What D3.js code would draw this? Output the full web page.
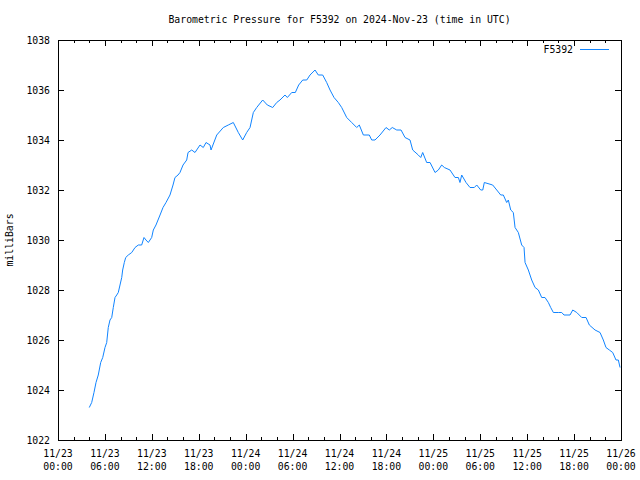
<!DOCTYPE html>
<html>
<head>
<meta charset="utf-8">
<script src="https://cdn.jsdelivr.net/npm/d3@7"></script>
<style>
  body { margin: 0; background: #fff; }
  text { font-family: "DejaVu Sans Mono", monospace; font-size: 9.8px; fill: #000; }
</style>
</head>
<body>
<div id="chart"></div>
<script>
// hours after 2024-11-23 00:00 UTC
const hours = [4.00, 4.31, 4.60, 4.86, 5.15, 5.46, 5.72, 6.01, 6.23, 6.43, 6.65, 6.87, 7.07, 7.29, 7.51, 7.71,
  7.93, 8.15, 8.27, 8.48, 8.66, 8.99, 9.43, 9.85, 10.27, 10.70, 11.00, 11.25, 11.55, 11.98, 12.19, 12.53,
  13.05, 13.43, 13.81, 14.32, 14.71, 14.96, 15.35, 15.60, 15.99, 16.46, 16.63, 17.10, 17.52, 18.16, 18.58,
  18.93, 19.44, 19.57, 20.30, 21.14, 21.78, 22.42, 23.06, 23.62, 24.13, 24.56, 24.98, 25.41, 26.18, 26.77,
  27.46, 27.97, 28.39, 29.03, 29.33, 29.89, 30.35, 30.78, 31.30, 31.81, 32.23, 32.87, 33.29, 33.85, 34.36,
  34.79, 35.30, 35.85, 36.28, 36.92, 37.56, 38.20, 38.53, 39.05, 39.81, 40.12, 40.54, 41.18, 41.95, 42.37,
  42.75, 43.32, 43.87, 44.38, 45.02, 45.36, 46.08, 46.39, 46.64, 47.15, 47.58, 48.22, 48.64, 49.07, 49.41,
  50.13, 50.77, 51.20, 51.41, 51.63, 52.18, 52.69, 53.24, 53.55, 54.06, 54.32, 54.52, 55.59, 56.11, 56.62,
  56.95, 57.38, 57.59, 57.90, 58.23, 58.45, 58.87, 59.30, 59.60, 59.73, 60.15, 60.58, 61.01, 61.43, 61.86,
  62.28, 62.71, 63.01, 63.35, 63.69, 63.98, 64.42, 64.71, 65.48, 65.83, 66.34, 66.98, 67.53, 67.95, 68.68,
  69.32, 69.74, 70.08, 70.51, 70.94, 71.36, 71.66, 71.88];
const pressure = [1023.3, 1023.5, 1023.9, 1024.3, 1024.6, 1025.1, 1025.3, 1025.7, 1025.9, 1026.5, 1026.8, 1026.9, 1027.3, 1027.7, 1027.8, 1027.9,
  1028.2, 1028.5, 1028.8, 1029.1, 1029.3, 1029.4, 1029.5, 1029.7, 1029.8, 1029.8, 1030.1, 1030.0, 1029.9, 1030.1, 1030.4, 1030.6,
  1031.0, 1031.3, 1031.5, 1031.8, 1032.2, 1032.5, 1032.6, 1032.7, 1033.0, 1033.2, 1033.5, 1033.6, 1033.5, 1033.8, 1033.7,
  1033.9, 1033.8, 1033.6, 1034.2, 1034.5, 1034.6, 1034.7, 1034.3, 1034.0, 1034.3, 1034.5, 1035.1, 1035.3, 1035.6, 1035.4,
  1035.3, 1035.5, 1035.6, 1035.8, 1035.7, 1035.9, 1035.9, 1036.2, 1036.4, 1036.4, 1036.6, 1036.8, 1036.6, 1036.6, 1036.3,
  1036.0, 1035.7, 1035.5, 1035.3, 1034.9, 1034.7, 1034.5, 1034.6, 1034.2, 1034.2, 1034.0, 1034.0, 1034.2, 1034.5, 1034.4,
  1034.5, 1034.4, 1034.4, 1034.1, 1034.0, 1033.6, 1033.4, 1033.3, 1033.5, 1033.1, 1033.1, 1032.7, 1032.8, 1033.0, 1032.9,
  1032.8, 1032.5, 1032.5, 1032.3, 1032.6, 1032.3, 1032.1, 1032.1, 1032.2, 1032.0, 1032.0, 1032.3, 1032.2, 1032.0, 1031.8,
  1031.8, 1031.5, 1031.6, 1031.2, 1031.1, 1030.5, 1030.3, 1029.8, 1029.7, 1029.1, 1028.8, 1028.4, 1028.1, 1028.0, 1027.7,
  1027.7, 1027.5, 1027.3, 1027.1, 1027.1, 1027.1, 1027.1, 1027.0, 1027.0, 1027.2, 1027.1, 1026.9, 1026.9, 1026.6, 1026.4,
  1026.3, 1026.0, 1025.7, 1025.6, 1025.5, 1025.2, 1025.2, 1024.9];
const yTicks = [1022, 1024, 1026, 1028, 1030, 1032, 1034, 1036, 1038];
const seriesName = "F5392";

const start = new Date(Date.UTC(2024, 10, 23, 0, 0));
const end = new Date(Date.UTC(2024, 10, 26, 0, 0));
const data = hours.map((h, i) => ({t: new Date(start.getTime() + h * 3600e3), p: pressure[i]}));

const margin = {top: 40, right: 19, bottom: 40, left: 58},
    width = 640 - margin.left - margin.right,
    height = 480 - margin.top - margin.bottom;

const svg = d3.select("#chart")
    .append("svg")
    .attr("width", 640)
    .attr("height", 480)
    .append("g")
    .attr("transform", `translate(${margin.left},${margin.top})`);

const x = d3.scaleUtc().domain([start, end]).range([0, width]);
const y = d3.scaleLinear().domain([1022, 1038]).range([height, 0]);

const majorX = d3.utcHour.every(6).range(start, d3.utcHour.offset(end, 1));
const minorX = d3.utcHour.every(2).range(start, end).filter(d => d.getUTCHours() % 6 !== 0);

// ticks, drawn inward on all four sides
const ticks = svg.append("g").attr("stroke", "#000").attr("shape-rendering", "crispEdges");
majorX.forEach(d => {
  const px = Math.round(x(d)) + 0.5;
  ticks.append("line").attr("x1", px).attr("x2", px).attr("y1", height).attr("y2", height - 6);
  ticks.append("line").attr("x1", px).attr("x2", px).attr("y1", 0).attr("y2", 6);
});
minorX.forEach(d => {
  const px = Math.round(x(d)) + 0.5;
  ticks.append("line").attr("x1", px).attr("x2", px).attr("y1", height).attr("y2", height - 3);
  ticks.append("line").attr("x1", px).attr("x2", px).attr("y1", 0).attr("y2", 3);
});
yTicks.forEach(v => {
  const py = Math.round(y(v)) + 0.5;
  ticks.append("line").attr("x1", 0).attr("x2", 6).attr("y1", py).attr("y2", py);
  ticks.append("line").attr("x1", width - 6).attr("x2", width).attr("y1", py).attr("y2", py);
});

// y tick labels
svg.selectAll(".ylab")
    .data(yTicks)
    .enter()
    .append("text")
    .attr("x", -8)
    .attr("y", d => y(d) + 3.5)
    .attr("text-anchor", "end")
    .text(d => d);

// x tick labels, two lines
const fmtDay = d3.utcFormat("%m/%d"), fmtTime = d3.utcFormat("%H:%M");
const xl = svg.selectAll(".xlab")
    .data(majorX)
    .enter()
    .append("text")
    .attr("text-anchor", "middle");
xl.append("tspan").attr("x", d => x(d)).attr("y", height + 17).text(d => fmtDay(d));
xl.append("tspan").attr("x", d => x(d)).attr("y", height + 30).text(d => fmtTime(d));

// pressure line
svg.append("path")
    .datum(data)
    .attr("fill", "none")
    .attr("stroke", "#1084ff")
    .attr("stroke-width", 1)
    .attr("d", d3.line().x(d => x(d.t)).y(d => y(d.p)));

// frame
svg.append("rect")
    .attr("x", 0.5)
    .attr("y", 0.5)
    .attr("width", width)
    .attr("height", height)
    .attr("fill", "none")
    .attr("stroke", "#000")
    .attr("shape-rendering", "crispEdges");

// legend
svg.append("text")
    .attr("x", width - 48)
    .attr("y", 13)
    .attr("text-anchor", "end")
    .text(seriesName);
svg.append("line")
    .attr("x1", width - 41)
    .attr("x2", width - 12)
    .attr("y1", 9.5)
    .attr("y2", 9.5)
    .attr("stroke", "#1084ff")
    .attr("shape-rendering", "crispEdges");

// title and axis label
svg.append("text")
    .attr("x", width / 2)
    .attr("y", -17)
    .attr("text-anchor", "middle")
    .text("Barometric Pressure for F5392 on 2024-Nov-23 (time in UTC)");

svg.append("text")
    .attr("transform", `translate(${-45},${height / 2}) rotate(-90)`)
    .attr("text-anchor", "middle")
    .text("milliBars");
</script>
</body>
</html>
